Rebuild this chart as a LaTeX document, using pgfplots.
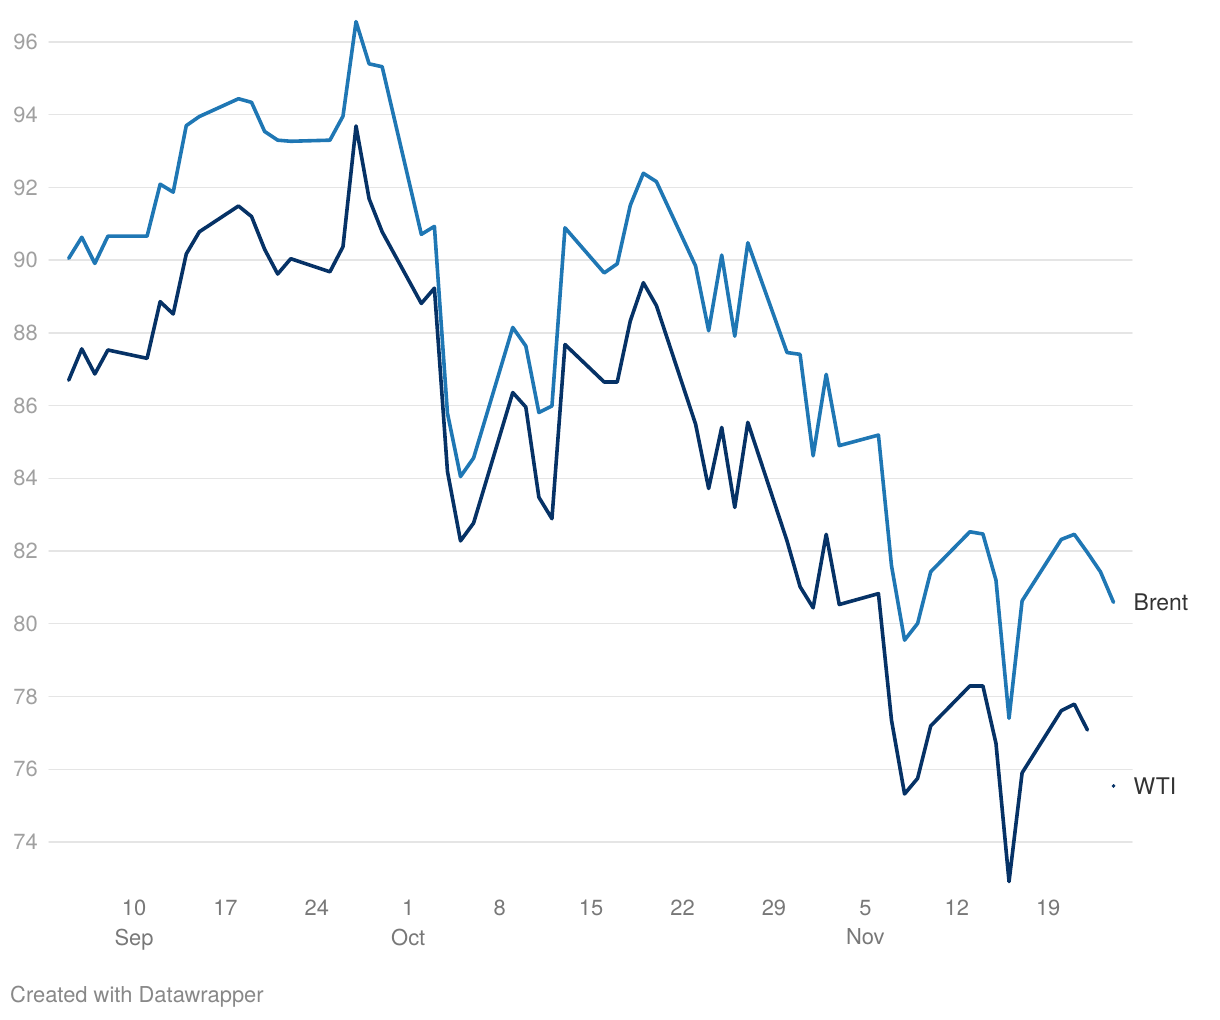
\documentclass[border=0pt]{standalone}
\usepackage{pgfplots}
\pgfplotsset{compat=1.18}
\usepackage{fontspec}
\setmainfont{TeX Gyre Heros}
\definecolor{brent}{RGB}{31,119,180}
\definecolor{wti}{RGB}{6,50,102}
\definecolor{gridc}{RGB}{229,229,229}
\definecolor{ylab}{RGB}{160,160,160}
\definecolor{xlab}{RGB}{120,120,120}
\definecolor{lab}{RGB}{51,51,51}
\definecolor{cred}{RGB}{136,136,136}
\begin{document}
\begin{tikzpicture}
\useasboundingbox (0,0) rectangle (1220bp,1020bp);
\begin{axis}[
  at={(49bp,134.4bp)}, anchor=south west,
  scale only axis, width=1083bp, height=865.4bp,
  xmin=3.49, xmax=86.42, ymin=72.8, ymax=96.6,
  clip=false,
  axis line style={draw=none}, tick style={draw=none},
  ymajorgrids, major grid style={color=gridc, line width=1.4bp},
  ytick={74,76,...,96},
  xtick={10,17,24,31,38,45,52,59,66,73,80},
  xticklabels={{10\\Sep},17,24,{1\\Oct},8,15,22,29,{5\\Nov},12,19},
  /pgf/number format/assume math mode=true,
  yticklabel style={font=\fontsize{22}{26}\selectfont, text=ylab, inner sep=0pt, xshift=-11bp},
  xticklabel style={font=\fontsize{22}{30}\selectfont, text=xlab, align=center, inner sep=0pt, yshift=-14bp},
  line join=round, line cap=round,
]
\addplot[brent, line width=3.6bp, mark=none] coordinates {
(5,90.05)(6,90.63)(7,89.91)(8,90.66)(11,90.66)(12,92.09)(13,91.87)(14,93.70)(15,93.95)
(18,94.44)(19,94.34)(20,93.54)(21,93.30)(22,93.27)(25,93.30)(26,93.96)(27,96.56)(28,95.40)(29,95.32)
(32,90.71)(33,90.93)(34,85.79)(35,84.05)(36,84.56)(39,88.15)(40,87.64)(41,85.81)(42,85.99)(43,90.89)
(46,89.65)(47,89.90)(48,91.51)(49,92.39)(50,92.16)(53,89.84)(54,88.06)(55,90.14)(56,87.91)(57,90.48)
(60,87.46)(61,87.41)(62,84.62)(63,86.86)(64,84.90)(67,85.19)(68,81.60)(69,79.55)(70,80.01)(71,81.43)
(74,82.53)(75,82.47)(76,81.20)(77,77.40)(78,80.63)(81,82.32)(82,82.46)(83,81.96)(84,81.43)(85,80.59)
};
\addplot[wti, line width=3.6bp, mark=none] coordinates {
(5,86.70)(6,87.56)(7,86.87)(8,87.53)(11,87.30)(12,88.86)(13,88.52)(14,90.17)(15,90.78)
(18,91.49)(19,91.20)(20,90.30)(21,89.62)(22,90.04)(25,89.68)(26,90.37)(27,93.69)(28,91.69)(29,90.78)
(32,88.81)(33,89.23)(34,84.19)(35,82.28)(36,82.77)(39,86.36)(40,85.96)(41,83.48)(42,82.89)(43,87.68)
(46,86.65)(47,86.65)(48,88.33)(49,89.38)(50,88.75)(53,85.49)(54,83.72)(55,85.40)(56,83.20)(57,85.54)
(60,82.28)(61,81.02)(62,80.44)(63,82.46)(64,80.53)(67,80.83)(68,77.35)(69,75.32)(70,75.75)(71,77.19)
(74,78.29)(75,78.29)(76,76.71)(77,72.91)(78,75.90)(81,77.61)(82,77.79)(83,77.08)
};
\addplot[wti, only marks, mark=*, mark size=1.7bp] coordinates {(85,75.54)};
\node[anchor=west, text=lab, font=\fontsize{23}{27}\selectfont, inner sep=0pt] at (axis cs:85,80.59) [xshift=20bp] {Brent};
\node[anchor=west, text=lab, font=\fontsize{23}{27}\selectfont, inner sep=0pt] at (axis cs:85,75.54) [xshift=20bp] {WTI};
\end{axis}
\node[anchor=west, text=cred, font=\fontsize{22}{26}\selectfont, inner sep=0pt] at (10bp,23bp) {Created with Datawrapper};
\end{tikzpicture}
\end{document}
